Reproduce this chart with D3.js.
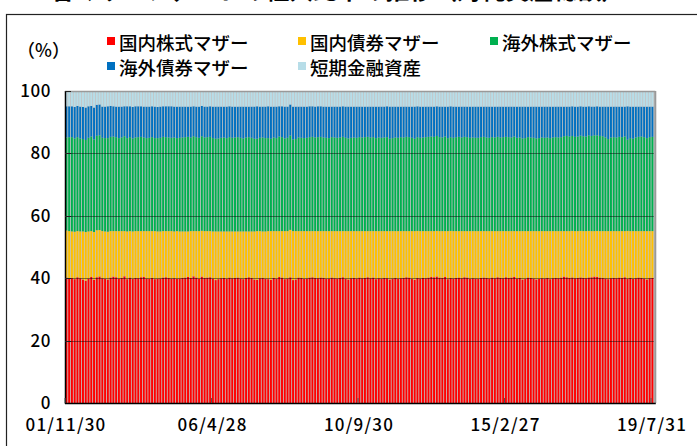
<!DOCTYPE html>
<html>
<head>
<meta charset="utf-8">
<script src="https://cdn.jsdelivr.net/npm/d3@7"></script>
<style>
  body { margin: 0; background: #fff; }
  svg { display: block; }
  text { font-family: "Noto Sans CJK JP", "Noto Sans", sans-serif; fill: #000; }
</style>
</head>
<body>
<svg id="chart" width="697" height="446"></svg>
<script>
// monthly categories, 2001/11 .. 2019/7
const months = d3.timeMonth.range(new Date(2001, 10, 1), new Date(2019, 7, 1));

const seriesNames = ["国内株式マザー", "国内債券マザー", "海外株式マザー", "海外債券マザー", "短期金融資産"];
const seriesColors = ["#ff0000", "#ffc000", "#00b050", "#0070c0", "#b7dde8"];

const domesticStock = [
  40.2, 39.8,
  40.1, 39.7, 40.3, 40.0, 39.6, 39.2, 39.9, 40.4, 39.5, 40.1, 40.3, 40.0,
  39.8, 39.6, 40.2, 40.5, 40.3, 39.9, 40.1, 40.6, 39.7, 40.2, 39.8, 40.1,
  40.0, 40.3, 40.4, 39.9, 39.8, 40.1, 39.7, 39.8, 39.9, 40.2, 40.3, 40.1,
  39.9, 40.0, 39.8, 39.9, 40.1, 40.2, 40.4, 40.1, 40.6, 40.2, 39.8, 40.5,
  40.1, 40.2, 40.3, 39.9, 39.4, 39.7, 40.0, 40.1, 39.8, 40.2, 40.0, 40.1,
  40.2, 39.9, 39.7, 40.1, 40.3, 40.1, 39.6, 39.5, 40.0, 40.1, 39.8, 39.7,
  39.5, 40.1, 39.8, 40.4, 40.2, 39.7, 39.9, 40.0, 39.4, 39.6, 40.2, 40.1,
  39.8, 39.9, 40.2, 40.3, 40.1, 40.0, 40.2, 40.1, 39.8, 39.9, 40.2, 40.0,
  39.9, 40.1, 40.3, 39.8, 39.6, 40.0, 40.1, 39.9, 40.2, 40.0, 40.1, 40.3,
  40.0, 40.2, 39.7, 40.0, 39.9, 40.1, 40.0, 39.6, 39.9, 40.1, 39.8, 40.0,
  40.1, 40.3, 40.2, 39.8, 39.5, 40.0, 39.9, 40.1, 40.0, 40.2, 40.4, 40.3,
  40.5, 40.2, 40.1, 40.4, 39.7, 40.0, 39.9, 40.1, 40.2, 40.0, 40.3, 40.2,
  39.8, 40.0, 39.9, 39.8, 40.1, 40.2, 40.1, 39.9, 40.2, 40.0, 40.3, 40.1,
  40.0, 40.3, 40.1, 40.2, 40.4, 39.9, 40.1, 39.6, 39.8, 40.2, 40.1, 39.9,
  39.6, 39.8, 40.0, 39.9, 40.1, 39.7, 40.0, 40.1, 40.0, 40.2, 40.5, 40.3,
  40.1, 40.2, 40.0, 40.1, 40.2, 40.1, 40.0, 40.2, 40.3, 40.5, 40.4, 40.2,
  40.1, 39.9, 39.7, 40.0, 40.1, 40.0, 40.2, 40.1, 40.3, 39.7, 40.1, 39.8,
  40.0, 40.2, 40.1, 39.9, 39.6, 40.0, 40.1
];

const domesticBond = [
  15.1, 15.3,
  14.9, 15.2, 14.8, 15.0, 15.4, 15.6, 15.1, 14.7, 15.3, 15.0, 14.8, 15.1,
  15.2, 15.3, 14.9, 14.6, 14.8, 15.2, 15.0, 14.5, 15.3, 14.9, 15.2, 15.0,
  15.1, 14.8, 14.7, 15.2, 15.3, 15.0, 15.4, 15.2, 15.1, 14.9, 14.8, 15.0,
  15.2, 15.0, 15.3, 15.1, 14.9, 14.8, 14.6, 15.0, 14.5, 14.9, 15.3, 14.7,
  15.0, 14.9, 14.8, 15.1, 15.6, 15.3, 15.0, 14.9, 15.2, 14.8, 15.0, 14.9,
  14.8, 15.1, 15.3, 14.9, 14.7, 14.9, 15.4, 15.6, 15.1, 14.9, 15.2, 15.4,
  15.6, 15.0, 15.3, 14.7, 14.9, 15.4, 15.2, 15.1, 15.7, 15.5, 14.9, 15.0,
  15.3, 15.2, 14.9, 14.8, 15.0, 15.1, 14.9, 15.0, 15.3, 15.2, 14.9, 15.1,
  15.2, 15.0, 14.8, 15.3, 15.5, 15.1, 15.0, 15.2, 14.9, 15.1, 15.0, 14.8,
  15.1, 14.9, 15.4, 15.1, 15.2, 15.0, 15.1, 15.5, 15.2, 15.0, 15.3, 15.1,
  15.0, 14.8, 14.9, 15.3, 15.6, 15.1, 15.2, 15.0, 15.1, 14.9, 14.7, 14.8,
  14.6, 14.9, 15.0, 14.7, 15.4, 15.1, 15.2, 15.0, 14.9, 15.1, 14.8, 14.9,
  15.3, 15.1, 15.2, 15.3, 15.0, 14.9, 15.0, 15.2, 14.9, 15.1, 14.8, 15.0,
  15.1, 14.8, 15.0, 14.9, 14.7, 15.2, 15.0, 15.5, 15.3, 14.9, 15.0, 15.2,
  15.5, 15.3, 15.1, 15.2, 15.0, 15.4, 15.1, 15.0, 15.1, 14.9, 14.6, 14.8,
  15.0, 14.9, 15.1, 15.0, 14.9, 15.0, 15.1, 14.9, 14.8, 14.6, 14.7, 14.9,
  15.0, 15.2, 15.4, 15.1, 15.0, 15.1, 14.9, 15.0, 14.8, 15.4, 15.0, 15.3,
  15.1, 14.9, 15.0, 15.2, 15.5, 15.1, 15.0
];

const foreignStock = [
  29.8, 30.1,
  30.2, 29.9, 30.1, 29.8, 29.6, 29.5, 30.0, 30.3, 29.7, 30.1, 30.2, 29.9,
  29.9, 30.0, 30.2, 30.3, 30.1, 29.8, 30.0, 30.4, 29.9, 30.1, 29.8, 30.0,
  30.1, 30.2, 30.0, 29.8, 29.9, 30.1, 29.8, 29.9, 30.0, 30.2, 30.1, 30.0,
  29.9, 30.1, 29.8, 30.0, 30.1, 30.2, 30.3, 30.0, 30.4, 30.1, 29.9, 30.3,
  30.0, 30.1, 30.2, 29.9, 29.7, 29.8, 30.0, 30.1, 29.9, 30.2, 30.0, 30.1,
  30.2, 30.0, 29.8, 30.1, 30.2, 30.0, 29.7, 29.6, 29.9, 30.1, 29.9, 29.8,
  29.6, 30.0, 29.8, 30.3, 30.1, 29.7, 29.9, 30.0, 29.4, 29.5, 30.0, 29.9,
  29.8, 29.9, 30.1, 30.2, 30.0, 30.1, 30.2, 30.0, 29.9, 29.8, 30.1, 30.0,
  29.9, 30.0, 30.2, 29.9, 29.7, 29.9, 30.0, 29.9, 30.1, 30.0, 30.1, 30.2,
  30.0, 30.1, 29.8, 30.0, 29.9, 30.0, 30.1, 29.6, 29.8, 30.0, 29.9, 30.1,
  30.0, 30.2, 30.1, 29.9, 29.6, 30.0, 29.9, 30.0, 30.1, 30.2, 30.3, 30.2,
  30.4, 30.1, 30.0, 30.3, 29.8, 30.0, 29.9, 30.1, 30.2, 30.0, 30.2, 30.1,
  29.9, 30.0, 29.9, 29.9, 30.1, 30.2, 30.0, 29.9, 30.1, 30.0, 30.2, 30.0,
  30.1, 30.2, 30.1, 30.0, 30.3, 29.9, 30.0, 29.7, 29.8, 30.1, 30.0, 29.9,
  29.7, 29.8, 30.0, 29.9, 30.0, 29.8, 30.0, 30.1, 30.0, 30.1, 30.4, 30.5,
  30.3, 30.4, 30.2, 30.3, 30.5, 30.4, 30.3, 30.6, 30.5, 30.7, 30.6, 30.5,
  30.4, 30.0, 29.5, 30.0, 30.1, 30.0, 30.2, 30.1, 30.3, 29.2, 29.8, 29.6,
  30.0, 30.2, 30.3, 30.1, 29.8, 30.1, 30.2
];

const foreignBond = [
  10.0, 9.9,
  9.9, 10.1, 10.0, 10.2, 10.3, 10.4, 10.1, 9.8, 10.2, 9.9, 9.8, 10.0,
  10.1, 10.2, 9.9, 9.7, 9.8, 10.1, 9.9, 9.6, 10.2, 9.9, 10.1, 10.0,
  9.9, 9.8, 9.9, 10.1, 10.0, 9.9, 10.1, 10.0, 10.0, 9.8, 9.9, 10.0,
  10.1, 9.9, 10.1, 10.0, 9.9, 9.8, 9.7, 9.9, 9.6, 9.8, 10.0, 9.7,
  9.9, 9.8, 9.8, 10.1, 10.3, 10.2, 10.0, 9.9, 10.1, 9.9, 10.0, 9.9,
  9.8, 10.0, 10.2, 9.9, 9.8, 10.0, 10.3, 10.4, 10.0, 9.9, 10.1, 10.2,
  10.3, 9.9, 10.1, 9.7, 9.9, 10.2, 10.0, 9.9, 10.5, 10.4, 9.9, 10.0,
  10.1, 10.0, 9.9, 9.8, 9.9, 9.9, 9.8, 9.9, 10.0, 10.1, 9.8, 9.9,
  10.0, 9.9, 9.8, 10.0, 10.2, 10.0, 9.9, 10.0, 9.8, 9.9, 9.8, 9.7,
  9.9, 9.8, 10.1, 9.9, 10.0, 9.9, 9.9, 10.3, 10.1, 9.9, 10.0, 9.8,
  9.9, 9.7, 9.8, 10.0, 10.3, 9.9, 10.0, 9.9, 9.8, 9.7, 9.6, 9.7,
  9.5, 9.8, 9.9, 9.6, 10.1, 9.9, 10.0, 9.8, 9.7, 9.9, 9.7, 9.8,
  10.0, 9.9, 10.0, 10.0, 9.8, 9.7, 9.9, 10.0, 9.8, 9.9, 9.7, 9.9,
  9.8, 9.7, 9.8, 9.9, 9.6, 10.0, 9.9, 10.2, 10.1, 9.8, 9.9, 10.0,
  10.2, 10.1, 9.9, 10.0, 9.9, 10.1, 9.9, 9.8, 9.9, 9.8, 9.5, 9.4,
  9.6, 9.5, 9.7, 9.6, 9.4, 9.5, 9.6, 9.3, 9.4, 9.2, 9.3, 9.4,
  9.5, 9.9, 10.4, 9.9, 9.8, 9.9, 9.7, 9.8, 9.6, 10.7, 10.1, 10.3,
  9.9, 9.7, 9.6, 9.8, 10.1, 9.8, 9.7
];

const shortTerm = [
  4.9, 4.9,
  4.9, 5.1, 4.8, 5.0, 5.1, 5.3, 4.9, 4.8, 5.3, 4.4, 4.3, 5.0,
  5.0, 4.9, 4.8, 4.9, 5.0, 5.0, 5.0, 4.9, 4.9, 4.9, 5.1, 4.9,
  4.9, 4.9, 5.0, 5.0, 5.0, 4.9, 5.0, 5.1, 5.0, 4.9, 4.9, 4.9,
  4.9, 5.0, 5.0, 5.0, 5.0, 5.0, 5.0, 5.0, 4.9, 5.0, 5.0, 4.8,
  5.0, 5.0, 4.9, 5.0, 5.0, 5.0, 5.0, 5.0, 5.0, 4.9, 5.0, 5.0,
  5.0, 5.0, 5.0, 5.0, 5.0, 5.0, 5.0, 4.9, 5.0, 5.0, 5.0, 4.9,
  5.0, 5.0, 5.0, 4.9, 4.9, 5.0, 5.0, 4.3, 5.0, 5.0, 5.0, 5.0,
  5.0, 5.0, 4.9, 4.9, 5.0, 4.9, 4.9, 5.0, 5.0, 5.0, 5.0, 5.0,
  5.0, 5.0, 4.9, 5.0, 5.0, 5.0, 5.0, 5.0, 5.0, 5.0, 5.0, 5.0,
  5.0, 5.0, 5.0, 5.0, 5.0, 5.0, 4.9, 5.0, 5.0, 5.0, 5.0, 5.0,
  5.0, 5.0, 5.0, 5.0, 5.0, 4.9, 5.0, 5.0, 5.0, 5.0, 5.0, 5.0,
  4.9, 5.0, 5.0, 5.0, 5.0, 4.9, 5.0, 5.0, 5.0, 5.0, 5.0, 5.0,
  5.0, 5.0, 5.0, 5.0, 5.0, 5.0, 5.0, 5.0, 5.0, 5.0, 5.0, 5.0,
  5.0, 5.0, 5.0, 5.0, 5.0, 5.0, 5.0, 5.0, 5.0, 5.0, 5.0, 5.0,
  5.0, 5.0, 5.0, 5.0, 5.0, 5.0, 5.0, 5.0, 5.0, 5.0, 5.0, 5.0,
  5.0, 4.9, 5.0, 5.0, 4.9, 5.0, 5.0, 4.9, 5.0, 5.0, 4.9, 5.0,
  5.0, 5.0, 5.0, 5.0, 5.0, 5.0, 5.0, 5.0, 5.0, 4.9, 5.0, 5.0,
  5.0, 5.0, 5.0, 5.0, 5.0, 5.0, 5.0
];

const yTicks = [0, 20, 40, 60, 80, 100];
const xTickIndex = [0, 53, 106, 159, 212];
const xTickLabels = ["01/11/30", "06/4/28", "10/9/30", "15/2/27", "19/7/31"];

const svg = d3.select("#chart");

// outer frame (runs off the picture to the right and bottom)
svg.append("rect")
  .attr("x", 6.5).attr("y", 14.5)
  .attr("width", 760).attr("height", 480)
  .attr("fill", "none").attr("stroke", "#222").attr("stroke-width", 1.2);

// title, cut off at the top edge
svg.append("text")
  .attr("x", 338).attr("y", -1)
  .attr("text-anchor", "middle")
  .style("font-size", "24px").style("font-weight", "bold")
  .text("＜各マザーファンドの組入比率の推移（対純資産総額）＞");

const plotLeft = 65, plotRight = 653.8, plotTop = 91, plotBottom = 403;

const rows = months.map((m, i) => ({
  i: i,
  s0: domesticStock[i], s1: domesticBond[i], s2: foreignStock[i],
  s3: foreignBond[i], s4: shortTerm[i]
}));
const keys = ["s0", "s1", "s2", "s3", "s4"];

const stacked = d3.stack().keys(keys).offset(d3.stackOffsetExpand)(rows);

const x = d3.scaleBand().domain(d3.range(months.length)).range([plotLeft, plotRight]).paddingInner(0.3).paddingOuter(0.15);
const y = d3.scaleLinear().domain([0, 1]).range([plotBottom, plotTop]);

// plot background shows between the bars
svg.append("rect")
  .attr("x", plotLeft).attr("y", plotTop)
  .attr("width", plotRight - plotLeft + 1).attr("height", plotBottom - plotTop)
  .attr("fill", "#c4c4c4");

svg.append("g").selectAll("g")
  .data(stacked)
  .join("g")
  .attr("fill", (d, k) => seriesColors[k])
  .selectAll("rect")
  .data(d => d)
  .join("rect")
  .attr("x", d => x(d.data.i))
  .attr("y", d => y(d[1]))
  .attr("width", x.bandwidth())
  .attr("height", d => y(d[0]) - y(d[1]));

// grid lines over the bars
svg.append("g").selectAll("line")
  .data(yTicks.filter(t => t > 0 && t < 100))
  .join("line")
  .attr("x1", plotLeft).attr("x2", plotRight)
  .attr("y1", t => Math.round(y(t / 100)) + 0.5)
  .attr("y2", t => Math.round(y(t / 100)) + 0.5)
  .attr("stroke", "#000").attr("stroke-opacity", 0.45);

// plot border top/right
svg.append("line").attr("x1", plotLeft).attr("x2", plotRight + 1.5).attr("y1", plotTop + 0.5).attr("y2", plotTop + 0.5)
  .attr("stroke", "#999").attr("stroke-width", 1.5);
svg.append("line").attr("x1", plotRight + 1.5).attr("x2", plotRight + 1.5).attr("y1", plotTop).attr("y2", plotBottom)
  .attr("stroke", "#999").attr("stroke-width", 2);

// y axis
const yAxis = svg.append("g");
yAxis.append("line").attr("x1", plotLeft + 0.5).attr("x2", plotLeft + 0.5).attr("y1", plotTop).attr("y2", plotBottom + 1)
  .attr("stroke", "#000").attr("stroke-width", 1.5);
yAxis.selectAll("line.tk")
  .data(yTicks)
  .join("line").attr("class", "tk")
  .attr("x1", plotLeft).attr("x2", plotLeft + 6)
  .attr("y1", t => Math.round(y(t / 100)) + 0.5)
  .attr("y2", t => Math.round(y(t / 100)) + 0.5)
  .attr("stroke", "#222");
yAxis.selectAll("text")
  .data(yTicks)
  .join("text")
  .attr("x", 51).attr("y", t => y(t / 100) + 6)
  .attr("text-anchor", "end")
  .style("font-size", "17px").style("letter-spacing", "0.6px").style("font-weight", 500)
  .text(t => t);

// x axis
svg.append("line").attr("x1", plotLeft).attr("x2", plotRight + 2).attr("y1", plotBottom + 0.5).attr("y2", plotBottom + 0.5)
  .attr("stroke", "#000").attr("stroke-width", 1.5);
svg.append("g").selectAll("line")
  .data(xTickIndex)
  .join("line")
  .attr("x1", i => x(i) - x.step() * x.paddingInner() / 2)
  .attr("x2", i => x(i) - x.step() * x.paddingInner() / 2)
  .attr("y1", plotBottom).attr("y2", plotBottom - 5)
  .attr("stroke", "#555");
svg.append("g").selectAll("text")
  .data(xTickIndex)
  .join("text")
  .attr("x", i => x(i) - x.step() * x.paddingInner() / 2 + 1)
  .attr("y", 431)
  .attr("text-anchor", "middle")
  .style("font-size", "17px").style("letter-spacing", "1.2px").style("font-weight", 500)
  .text((i, k) => xTickLabels[k]);

// unit label
svg.append("text").attr("x", 17).attr("y", 57)
  .style("font-size", "18px").style("font-weight", 500).text("（%）");

// legend
const legendPos = [[107, 37], [298, 37], [490, 37], [107, 62], [298, 62]];
const legend = svg.append("g").selectAll("g")
  .data(seriesNames)
  .join("g")
  .attr("transform", (d, k) => `translate(${legendPos[k][0]},${legendPos[k][1]})`);
legend.append("rect").attr("width", 8).attr("height", 8).attr("fill", (d, k) => seriesColors[k]);
legend.append("text").attr("x", 12).attr("y", 13).style("font-size", "18.5px").style("font-weight", 500).text(d => d);
</script>
</body>
</html>
